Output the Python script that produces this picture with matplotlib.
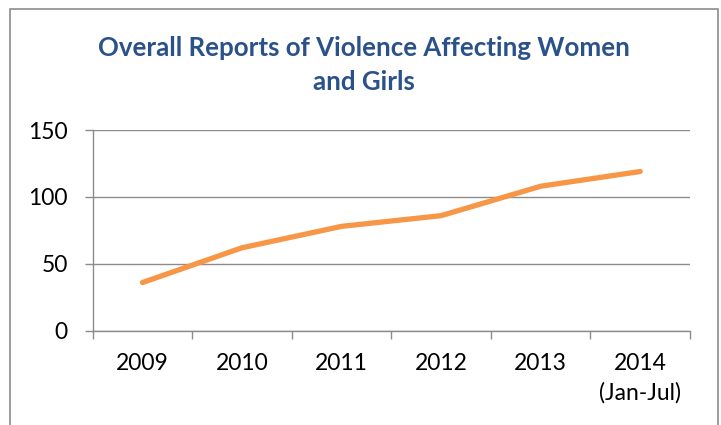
import numpy as np
import matplotlib.pyplot as plt
from matplotlib.patches import Rectangle

years = ["2009", "2010", "2011", "2012", "2013", "2014\n(Jan-Jul)"]
reports = [36, 62, 78, 86, 108, 119]
y_ticks = [0, 50, 100, 150]

title = "Overall Reports of Violence Affecting Women\nand Girls"


def main():
    plt.rcParams["font.family"] = ["Lato", "DejaVu Sans"]

    fig = plt.figure(figsize=(7.21, 4.25), dpi=100)
    ax = fig.add_axes([0.1286, 0.2219, 0.957 - 0.1286, 0.694 - 0.2219])

    # outer chart frame (bottom edge is cut off in the reference)
    fig.patches.append(Rectangle((10 / 721, -0.1), 708 / 721, 1.1 - 9 / 425,
                                 transform=fig.transFigure, fill=False,
                                 edgecolor="#8c8c8c", linewidth=1.2))

    x = np.arange(len(years))
    ax.plot(x, reports, color="#F79646", linewidth=3.8, solid_capstyle="round",
            solid_joinstyle="round", zorder=3)

    ax.set_xlim(-0.5, len(years) - 0.5)
    ax.set_ylim(0, 150)
    ax.set_yticks(y_ticks)
    ax.set_xticks(x)
    ax.set_xticklabels(years)
    ax.set_xticks(np.arange(len(years) + 1) - 0.5, minor=True)
    for lbl in ax.get_xticklabels():
        lbl.set_linespacing(1.45)

    ax.grid(axis="y", color="#8c8c8c", linewidth=1.0)
    ax.set_axisbelow(True)
    for side in ["top", "right"]:
        ax.spines[side].set_visible(False)
    for side in ["left", "bottom"]:
        ax.spines[side].set_color("#8c8c8c")
        ax.spines[side].set_linewidth(1.0)

    ax.tick_params(axis="y", length=6, width=1.0, color="#8c8c8c", pad=12,
                   labelsize=16.5, labelcolor="black")
    ax.tick_params(axis="x", which="major", length=0, pad=16,
                   labelsize=16.5, labelcolor="black")
    ax.tick_params(axis="x", which="minor", length=6, width=1.0, color="#8c8c8c")

    fig.text(0.5 * (100 + 628) / 721, 1 - 65 / 425, title, ha="center", va="center",
             fontsize=18.6, fontweight="bold", color="#2A5189", linespacing=1.5)

    fig.savefig("out.png", dpi=100)


if __name__ == "__main__":
    main()
